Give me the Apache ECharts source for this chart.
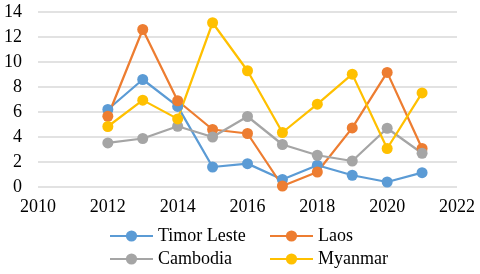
<!DOCTYPE html>
<html><head><meta charset="utf-8">
<script src="https://cdn.jsdelivr.net/npm/echarts@6/dist/echarts.min.js"></script>
<style>html,body{margin:0;padding:0;background:#fff}#c{width:480px;height:274px}</style>
</head><body><div id="c"></div>
<script>
const years = [2012, 2013, 2014, 2015, 2016, 2017, 2018, 2019, 2020, 2021];
const timorLeste = [6.2, 8.6, 6.45, 1.6, 1.87, 0.6, 1.74, 0.94, 0.4, 1.15];
const laos = [5.66, 12.6, 6.9, 4.6, 4.28, 0.08, 1.2, 4.73, 9.17, 3.08];
const cambodia = [3.53, 3.88, 4.86, 4.0, 5.64, 3.4, 2.54, 2.08, 4.7, 2.7];
const myanmar = [4.84, 6.95, 5.45, 13.14, 9.3, 4.36, 6.63, 9.03, 3.08, 7.53];
const seriesNames = ['Timor Leste', 'Laos', 'Cambodia', 'Myanmar'];
const seriesValues = [timorLeste, laos, cambodia, myanmar];
const colors = ['#5B9BD5', '#ED7D31', '#A5A5A5', '#FFC000'];

const font = 'Liberation Serif, Times New Roman, serif';
const chart = echarts.init(document.getElementById('c'), null, {renderer: 'canvas'});
const legendPos = [[109, 227], [269, 227], [109, 250], [269, 250]];
chart.setOption({
  animation: false,
  color: colors,
  grid: {left: 38, right: 23, top: 12, bottom: 87},
  xAxis: {
    type: 'value', min: 2010, max: 2022, interval: 2,
    axisLine: {show: false}, axisTick: {show: false}, splitLine: {show: false},
    axisLabel: {color: '#000', fontFamily: font, fontSize: 18, margin: 11,
      formatter: v => String(v)}
  },
  yAxis: {
    type: 'value', min: 0, max: 14, interval: 2,
    axisLine: {show: false}, axisTick: {show: false},
    splitLine: {lineStyle: {color: '#D9D9D9', width: 1.5}},
    axisLabel: {color: '#000', fontFamily: font, fontSize: 18, margin: 16}
  },
  legend: seriesNames.map((n, i) => ({
    data: [n], left: legendPos[i][0], top: legendPos[i][1],
    itemWidth: 43, itemHeight: 14, padding: 0,
    textStyle: {color: '#000', fontFamily: font, fontSize: 18}
  })),
  series: seriesNames.map((n, i) => ({
    name: n, type: 'line',
    data: years.map((y, j) => [y, seriesValues[i][j]]),
    symbol: 'circle', symbolSize: 11,
    lineStyle: {width: 2.25, color: colors[i]},
    itemStyle: {color: colors[i]}
  }))
});
</script></body></html>
